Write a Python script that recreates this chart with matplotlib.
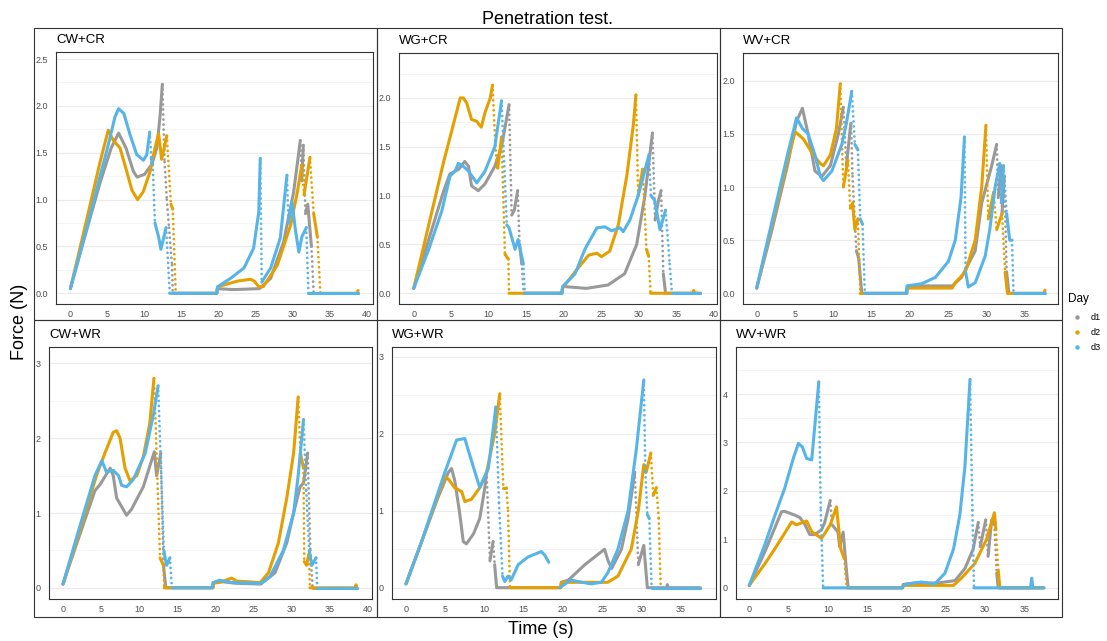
import matplotlib
matplotlib.use("Agg")
import matplotlib.pyplot as plt
from matplotlib.patches import Rectangle
from matplotlib.lines import Line2D
import numpy as np

plt.rcParams['font.family'] = ['Liberation Sans', 'DejaVu Sans']

nan = float('nan')

# ---- data (time s, force N) ----
days = ['d1', 'd2', 'd3']
day_colors = ['#999999', '#E69F00', '#56B4E9']

# CW+CR
cwcr_t1 = [0, 2, 4, 5.5, 6.5, 7.5, 8.5, 9.0, 10.0, 11.0, 11.65, 12.1, 12.4, 12.7, 13.0, 13.3, 13.7, 13.8, 19.7, 19.8, 22, 25.5, 27.0, 28.75, 30.1, 31.0, 31.2, 31.4, 31.7, 32.0, 32.5, 32.8, 33.3, 38.8]
cwcr_f1 = [0.05, 0.62, 1.18, 1.55, 1.71, 1.55, 1.30, 1.24, 1.27, 1.38, 1.55, 1.9, 2.23, 1.4, 1.0, 0.7, 0.3, 0.0, 0.0, 0.05, 0.04, 0.05, 0.16, 0.55, 1.08, 1.63, 1.2, 1.58, 0.85, 0.95, 0.5, 0.0, 0.0, 0.0]
cwcr_t2 = [0, 2, 4, 5.1, 5.8, 6.7, 7.6, 8.3, 9.05, 9.8, 10.75, 11.4, 11.9, 12.3, 13.0, 13.55, 13.8, 14.2, 19.75, 19.85, 22.5, 24.3, 24.8, 25.4, 26.0, 27.9, 29.7, 30.6, 31.2, 31.5, 32.3, 32.8, 33.3, 33.7, 38.6, 38.8]
cwcr_f2 = [0.05, 0.72, 1.4, 1.74, 1.63, 1.55, 1.3, 1.1, 1.0, 1.08, 1.3, 1.55, 1.7, 1.43, 1.68, 0.95, 0.9, 0.0, 0.0, 0.07, 0.13, 0.15, 0.13, 0.07, 0.07, 0.3, 0.73, 1.08, 1.37, 1.05, 1.45, 0.85, 0.6, 0.0, 0.0, 0.03]
cwcr_t3 = [0, 2, 4, 5, 6.0, 6.5, 7.2, 8.05, 8.95, 9.85, 10.3, 10.7, 10.9, 11.1, 11.4, 11.9, 12.2, 12.9, 13.4, 19.75, 19.85, 21.6, 23.4, 24.7, 25.4, 25.6, 25.8, 27.0, 28.3, 29.2, 29.4, 29.9, 30.3, 30.8, 31.2, 31.8, 32.1, 38.8]
cwcr_f3 = [0.05, 0.64, 1.25, 1.55, 1.88, 1.97, 1.92, 1.69, 1.48, 1.42, 1.48, 1.72, 1.45, 1.37, 0.75, 0.6, 0.47, 0.7, 0.0, 0.0, 0.07, 0.16, 0.27, 0.48, 0.87, 1.44, 0.12, 0.27, 0.59, 1.26, 0.75, 0.97, 0.7, 0.44, 0.6, 0.7, 0.0, 0.0]

# WG+CR
wgcr_t1 = [0, 2, 4, 4.8, 6.0, 6.8, 7.3, 7.7, 8.6, 9.5, 10.8, 11.7, 12.7, 13.05, 13.4, 13.85, 14.1, 14.4, 14.65, 19.75, 19.85, 23, 25.9, 28.1, 29.7, 30.8, 31.8, 32.15, 32.6, 32.95, 33.25, 33.55, 38.2]
wgcr_f1 = [0.05, 0.55, 1.05, 1.22, 1.27, 1.35, 1.3, 1.1, 1.05, 1.12, 1.3, 1.5, 1.93, 0.8, 0.85, 1.05, 0.5, 0.3, 0.0, 0.0, 0.07, 0.05, 0.085, 0.2, 0.5, 1.0, 1.64, 0.75, 0.95, 1.05, 0.2, 0.0, 0.0]
wgcr_t2 = [0, 2, 4, 6.2, 6.6, 7.05, 7.7, 8.4, 9.0, 9.5, 10.2, 10.5, 10.75, 11.05, 11.2, 11.7, 12.15, 12.6, 12.7, 19.7, 19.8, 21.5, 23.3, 24.4, 25.0, 26.1, 27.25, 28.4, 29.25, 29.6, 29.9, 30.5, 31.0, 31.3, 31.55, 37.2, 37.3, 37.4, 38.2]
wgcr_f2 = [0.05, 0.7, 1.35, 2.0, 2.0, 1.95, 1.78, 1.76, 1.7, 1.85, 2.0, 2.13, 1.72, 1.3, 1.28, 1.6, 0.4, 0.35, 0.0, 0.0, 0.05, 0.22, 0.39, 0.41, 0.375, 0.43, 0.7, 1.21, 1.72, 2.03, 1.0, 1.27, 0.45, 0.38, 0.0, 0.0, 0.03, 0.0, 0.0]
wgcr_t3 = [0, 2, 3.73, 4.84, 5.5, 5.95, 6.6, 7.3, 8.4, 9.5, 10.8, 11.7, 12.4, 12.7, 13.5, 13.9, 14.6, 14.8, 19.75, 19.85, 21.5, 22.8, 24.4, 25.5, 26.35, 27.5, 27.9, 28.8, 29.9, 31.35, 31.6, 32.1, 32.8, 33.55, 34.1, 34.4, 38.2]
wgcr_f3 = [0.05, 0.45, 0.84, 1.2, 1.25, 1.33, 1.3, 1.25, 1.13, 1.25, 1.5, 1.97, 0.7, 0.67, 0.45, 0.55, 0.3, 0.0, 0.0, 0.07, 0.2, 0.45, 0.67, 0.68, 0.64, 0.67, 0.63, 0.75, 1.0, 1.42, 1.0, 0.95, 0.65, 0.85, 0.3, 0.0, 0.0]

# WV+CR
wvcr_t1 = [0, 2, 4, 5.2, 5.96, 6.7, 7.6, 8.5, 9.6, 10.65, 11.3, 11.7, 12.2, 12.3, 12.5, 13.0, 13.3, 13.7, 19.6, 19.7, 25.5, 26.7, 28.5, 29.35, 30.65, 31.3, 31.5, 31.9, 32.0, 32.3, 32.6, 32.9, 37.6]
wvcr_f1 = [0.05, 0.6, 1.2, 1.62, 1.74, 1.5, 1.15, 1.1, 1.2, 1.5, 1.75, 1.2, 1.55, 1.6, 1.1, 0.4, 0.33, 0.0, 0.0, 0.07, 0.07, 0.15, 0.4, 0.85, 1.2, 1.4, 0.9, 1.2, 0.75, 1.1, 0.2, 0.0, 0.0]
wvcr_t2 = [0, 2, 4, 5.0, 5.65, 6.1, 7.4, 8.3, 8.7, 9.6, 10.4, 10.9, 11.3, 11.9, 12.2, 12.5, 12.8, 13.2, 13.5, 19.5, 19.6, 25.5, 25.9, 27.2, 28.5, 29.35, 29.9, 30.2, 30.9, 31.3, 32.0, 32.4, 32.7, 37.5, 37.6]
wvcr_f2 = [0.05, 0.65, 1.25, 1.52, 1.48, 1.45, 1.3, 1.22, 1.2, 1.3, 1.55, 1.97, 1.0, 1.25, 0.8, 0.85, 0.6, 0.7, 0.0, 0.0, 0.05, 0.05, 0.1, 0.2, 0.5, 1.0, 1.58, 0.7, 0.95, 0.6, 0.75, 0.2, 0.0, 0.0, 0.03]
wvcr_t3 = [0, 2, 4, 5.2, 5.96, 6.7, 7.6, 8.3, 8.7, 9.8, 11.1, 11.7, 12.4, 12.8, 13.2, 13.5, 13.8, 14.1, 19.5, 19.6, 21.5, 23.3, 25.0, 25.9, 26.65, 27.1, 27.25, 27.6, 28.5, 29.8, 30.4, 31.1, 31.7, 31.9, 32.2, 32.6, 33.0, 33.3, 33.5, 37.6]
wvcr_f3 = [0.05, 0.68, 1.3, 1.65, 1.55, 1.5, 1.3, 1.1, 1.06, 1.15, 1.4, 1.6, 1.9, 1.4, 1.35, 0.7, 0.65, 0.0, 0.0, 0.07, 0.09, 0.15, 0.3, 0.5, 0.9, 1.47, 0.2, 0.06, 0.1, 0.35, 0.6, 1.0, 1.22, 0.85, 1.2, 0.75, 0.5, 0.5, 0.0, 0.0]

# CW+WR
cwwr_t1 = [0, 2, 4.2, 4.86, 6.2, 6.6, 7.05, 7.9, 8.35, 9.0, 10.55, 12.0, 12.3, 12.85, 13.2, 13.5, 19.7, 19.8, 21.0, 22.8, 26.0, 27.85, 29.4, 30.3, 31.15, 31.6, 32.15, 32.5, 32.8, 38.6]
cwwr_f1 = [0.05, 0.65, 1.3, 1.38, 1.6, 1.5, 1.2, 1.05, 0.97, 1.05, 1.35, 1.82, 1.5, 1.8, 0.3, 0.0, 0.0, 0.07, 0.08, 0.06, 0.05, 0.2, 0.6, 1.0, 1.35, 1.4, 1.8, 0.5, 0.0, 0.0]
cwwr_t2 = [0, 2, 4.4, 5.5, 6.6, 7.05, 7.5, 8.15, 8.8, 9.7, 10.55, 11.4, 11.95, 12.1, 12.75, 13.2, 13.3, 19.7, 19.8, 20.85, 22.15, 22.8, 25.9, 27.0, 28.3, 29.4, 30.3, 30.9, 31.2, 31.6, 31.7, 32.0, 32.3, 32.45, 38.4, 38.5, 38.6]
cwwr_f2 = [0.05, 0.7, 1.5, 1.8, 2.08, 2.1, 2.0, 1.6, 1.43, 1.5, 1.75, 2.2, 2.8, 2.4, 0.4, 0.3, 0.0, 0.0, 0.06, 0.08, 0.13, 0.09, 0.07, 0.2, 0.6, 1.2, 1.8, 2.55, 1.8, 1.6, 0.35, 0.3, 0.45, 0.0, 0.0, 0.04, 0.0]
cwwr_t3 = [0, 2, 4.2, 5.1, 5.7, 6.6, 7.3, 7.7, 8.35, 9.25, 10.8, 11.85, 12.5, 13.25, 13.6, 14.05, 14.3, 19.6, 19.7, 20.6, 22.2, 26.0, 27.2, 28.95, 30.3, 30.9, 31.6, 31.95, 32.35, 32.7, 33.25, 33.4, 38.6]
cwwr_f3 = [0.05, 0.75, 1.5, 1.7, 1.55, 1.57, 1.5, 1.37, 1.35, 1.45, 1.8, 2.3, 2.7, 0.5, 0.3, 0.4, 0.0, 0.0, 0.07, 0.1, 0.07, 0.06, 0.15, 0.5, 1.0, 1.5, 2.25, 1.3, 0.5, 0.3, 0.4, 0.0, 0.0]

# WG+WR
wgwr_t1 = [0, 2, 4, 5.4, 5.8, 6.2, 6.8, 7.3, 7.7, 8.6, 9.4, 10.05, 10.27, 10.7, 11.1, 11.3, 11.55, 19.7, 19.8, 20.7, 22.8, 25.3, 25.75, 26.2, 27.45, 28.3, 29.15, 29.6, 30.3, 30.75, 33.2, 33.3, 33.4, 37.5]
wgwr_f1 = [0.05, 0.6, 1.15, 1.5, 1.55, 1.4, 1.0, 0.6, 0.57, 0.7, 0.9, 1.3, 1.5, 0.35, 0.6, 0.3, 0.0, 0.0, 0.07, 0.1, 0.3, 0.5, 0.35, 0.25, 0.5, 0.9, 1.5, 0.3, 0.55, 0.0, 0.0, 0.04, 0.0, 0.0]
wgwr_t2 = [0, 2, 4.95, 5.5, 6.2, 7.1, 7.5, 8.35, 9.4, 10.27, 11.3, 11.95, 12.4, 12.8, 13.0, 13.25, 19.7, 19.8, 25.7, 27.0, 28.7, 29.6, 30.3, 30.6, 31.2, 31.5, 31.9, 32.2, 32.45, 37.5]
wgwr_f2 = [0.05, 0.6, 1.45, 1.4, 1.3, 1.25, 1.12, 1.15, 1.3, 1.5, 2.0, 2.52, 1.3, 1.3, 1.0, 0.0, 0.0, 0.07, 0.07, 0.15, 0.5, 1.0, 1.6, 1.5, 1.75, 1.2, 1.3, 0.9, 0.0, 0.0]
wgwr_t3 = [0, 2, 4.95, 6.45, 7.5, 7.9, 8.8, 9.4, 10.5, 11.45, 11.85, 12.3, 12.6, 13.0, 13.4, 14.3, 15.55, 17.25, 17.7, 18.2, nan, 19.6, 21.0, 22.4, 23.6, 24.9, 25.75, 27.0, 28.3, 29.35, 30.3, 30.5, 30.75, 31.0, 31.3, 37.5]
wgwr_f3 = [0.05, 0.6, 1.5, 1.92, 1.94, 1.8, 1.5, 1.3, 1.55, 2.35, 1.1, 0.15, 0.08, 0.15, 0.1, 0.3, 0.4, 0.47, 0.42, 0.33, nan, 0.0, 0.1, 0.07, 0.05, 0.07, 0.2, 0.5, 1.0, 1.8, 2.7, 1.5, 0.95, 0.9, 0.0, 0.0]

# WV+WR
wvwr_t1 = [0, 2, 4.1, 4.5, 5.8, 6.45, 7.1, 7.7, 8.35, 9.2, 9.6, 10.3, 10.55, 11.3, 11.5, 11.95, 12.4, 12.6, 19.5, 19.6, 21.0, 24.0, 26.2, 27.45, 28.5, 29.15, 29.4, 30.1, 30.4, 30.85, 31.2, 31.5, 31.7, 37.5]
wvwr_f1 = [0.05, 0.75, 1.57, 1.58, 1.5, 1.45, 1.3, 1.1, 1.1, 1.2, 1.35, 1.8, 1.3, 1.15, 0.85, 1.15, 0.3, 0.0, 0.0, 0.07, 0.1, 0.1, 0.15, 0.4, 0.8, 1.35, 0.85, 1.4, 0.65, 1.4, 1.3, 0.3, 0.0, 0.0]
wvwr_t2 = [0, 2, 3.27, 5.4, 6.0, 7.3, 7.95, 9.2, 10.3, 11.1, 11.65, 12.1, 12.4, 19.5, 19.6, 26.0, 27.0, 28.7, 30.2, 30.85, 31.2, 31.4, 31.7, 31.9, 37.5]
wvwr_f2 = [0.05, 0.5, 0.81, 1.36, 1.3, 1.38, 1.16, 1.02, 1.3, 1.67, 0.8, 0.6, 0.0, 0.0, 0.05, 0.05, 0.2, 0.5, 1.0, 1.35, 1.55, 1.2, 0.35, 0.0, 0.0]
wvwr_t3 = [0, 2, 3.27, 4.5, 5.6, 6.25, 6.75, 7.3, 7.95, 8.35, 8.85, 9.1, 9.4, 19.5, 19.7, 21.1, 21.9, 23.6, 24.9, 26.0, 26.8, 27.45, 28.1, 28.4, 28.6, 35.8, 35.95, 36.1, 37.5]
wvwr_f3 = [0.05, 0.9, 1.5, 2.05, 2.67, 2.98, 2.91, 2.67, 2.64, 3.36, 4.25, 1.6, 0.0, 0.0, 0.07, 0.1, 0.12, 0.08, 0.3, 0.8, 1.5, 2.5, 4.3, 1.6, 0.0, 0.0, 0.2, 0.0, 0.0]

panel_names = ['CW+CR', 'WG+CR', 'WV+CR', 'CW+WR', 'WG+WR', 'WV+WR']
panel_series = [
    [(cwcr_t1, cwcr_f1), (cwcr_t2, cwcr_f2), (cwcr_t3, cwcr_f3)],
    [(wgcr_t1, wgcr_f1), (wgcr_t2, wgcr_f2), (wgcr_t3, wgcr_f3)],
    [(wvcr_t1, wvcr_f1), (wvcr_t2, wvcr_f2), (wvcr_t3, wvcr_f3)],
    [(cwwr_t1, cwwr_f1), (cwwr_t2, cwwr_f2), (cwwr_t3, cwwr_f3)],
    [(wgwr_t1, wgwr_f1), (wgwr_t2, wgwr_f2), (wgwr_t3, wgwr_f3)],
    [(wvwr_t1, wvwr_f1), (wvwr_t2, wvwr_f2), (wvwr_t3, wvwr_f3)],
]

# ---- layout (pixels) ----
W, H = 1107, 641
# panel rect: left, top, right, bottom
rects = [(56, 52, 373, 304), (399, 53, 717, 304), (743, 53, 1058, 304),
         (49, 347, 372, 599), (392, 347, 716, 599), (736, 347, 1058, 599)]
xlims = [(-1.94, 40.8), (-1.96, 40.4), (-1.79, 39.3),
         (-1.84, 40.6), (-1.78, 39.5), (-1.69, 39.3)]
ylims = [(-0.114, 2.575), (-0.11, 2.46), (-0.10, 2.26),
         (-0.15, 3.22), (-0.147, 3.13), (-0.23, 4.97)]
ysteps = [0.5, 0.5, 0.5, 1, 1, 1]
yfmt = ['{:.1f}', '{:.1f}', '{:.1f}', '{:.0f}', '{:.0f}', '{:.0f}']

fig = plt.figure(figsize=(W / 100, H / 100), dpi=100)


def frac(x, y):
    return x / W, 1 - y / H


def flush(ax, xs, ys, color):
    if len(xs) > 1:
        ax.plot(xs, ys, color=color, lw=2.2,
                solid_joinstyle='round', solid_capstyle='round')


def draw_series(ax, t, f, color, sx, sy):
    # dense parts solid, very steep drops dotted (sparse samples in the original)
    t = np.asarray(t, float)
    f = np.asarray(f, float)
    run_t, run_f = [t[0]], [f[0]]
    for i in range(len(t) - 1):
        dx = (t[i + 1] - t[i]) * sx
        dy = (f[i + 1] - f[i]) * sy
        if np.isnan(dx) or np.isnan(dy):
            flush(ax, run_t, run_f, color)
            run_t, run_f = [t[i + 1]], [f[i + 1]]
            continue
        if dy < -12.0 * abs(dx) and dy < -10:
            flush(ax, run_t, run_f, color)
            ax.plot([t[i], t[i + 1]], [f[i], f[i + 1]], color=color, lw=2.0,
                    ls=(0, (0.01, 1.8)), dash_capstyle='round')
            run_t, run_f = [t[i + 1]], [f[i + 1]]
        else:
            run_t.append(t[i + 1])
            run_f.append(f[i + 1])
    flush(ax, run_t, run_f, color)


# outer cell boxes
cells_x = [34, 377, 720, 1062]
cells_y = [28, 320, 617]
for r in range(2):
    for c in range(3):
        x0, x1 = cells_x[c], cells_x[c + 1]
        y0, y1 = cells_y[r], cells_y[r + 1]
        fig.add_artist(Rectangle(frac(x0, y1), (x1 - x0) / W, (y1 - y0) / H,
                                 transform=fig.transFigure, fill=False,
                                 ec='#333333', lw=0.8))

for i, name in enumerate(panel_names):
    l, t, r, b = rects[i]
    ax = fig.add_axes([l / W, 1 - b / H, (r - l) / W, (b - t) / H])
    sx = (r - l) / (xlims[i][1] - xlims[i][0])
    sy = (b - t) / (ylims[i][1] - ylims[i][0])
    for (tt, ff), col in zip(panel_series[i], day_colors):
        draw_series(ax, tt, ff, col, sx, sy)
    ax.set_xticks(np.arange(0, 41, 5))
    ax.set_xlim(*xlims[i])
    step = ysteps[i]
    yt = np.arange(0, ylims[i][1], step)
    ax.set_yticks(yt)
    ax.set_yticklabels([yfmt[i].format(v) for v in yt])
    ax.set_yticks(np.arange(step / 2, ylims[i][1], step), minor=True)
    ax.set_ylim(*ylims[i])
    ax.grid(axis='y', which='major', color='#EBEBEB', lw=0.8)
    ax.grid(axis='y', which='minor', color='#F4F4F4', lw=0.6)
    ax.set_axisbelow(True)
    ax.tick_params(axis='both', which='both', length=0, labelsize=6.5,
                   labelcolor='#4D4D4D')
    ax.tick_params(axis='x', pad=4)
    ax.tick_params(axis='y', pad=6)
    for s in ax.spines.values():
        s.set_color('#333333')
        s.set_linewidth(0.8)
    fig.text(l / W, 1 - (t - 12) / H, name, fontsize=9.5, ha='left',
             va='center', color='black')

fig.text(548 / W, 1 - 19 / H, 'Penetration test.', fontsize=13, ha='center', va='center')
fig.text(19 / W, 1 - 322 / H, 'Force (N)', fontsize=13, ha='center', va='center', rotation=90)
fig.text(541 / W, 1 - 630 / H, 'Time (s)', fontsize=13, ha='center', va='center')

# legend
fig.text(1068 / W, 1 - 299 / H, 'Day', fontsize=8.5, ha='left', va='center')
for k, (d, col) in enumerate(zip(days, day_colors)):
    yy = 317 + k * 15
    fig.add_artist(Line2D([1077 / W], [1 - yy / H], marker='o', ls='',
                          color=col, markersize=2.2, transform=fig.transFigure))
    fig.text(1091 / W, 1 - yy / H, d, fontsize=6.5, ha='left', va='center')

fig.savefig('out.png', dpi=100, facecolor='white')
